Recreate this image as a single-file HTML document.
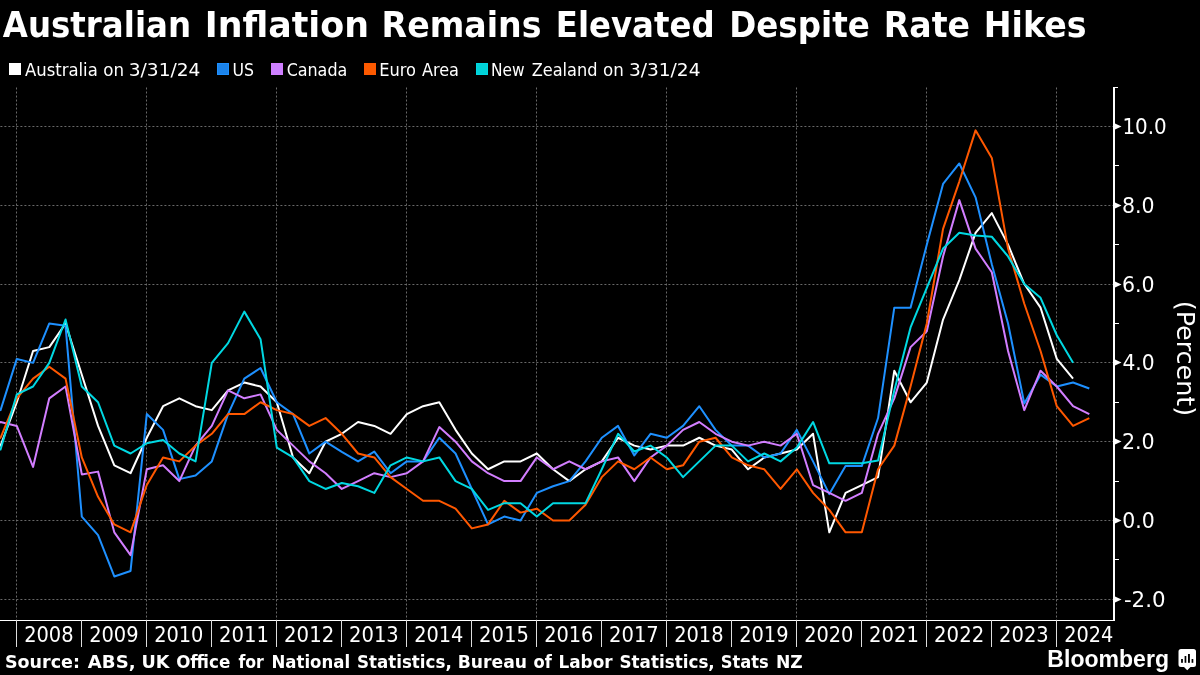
<!DOCTYPE html><html><head><meta charset="utf-8"><title>Australian Inflation Remains Elevated Despite Rate Hikes</title>
<style>html,body{margin:0;padding:0;background:#000;}svg{display:block}</style></head><body>
<svg width="1200" height="675" viewBox="0 0 1200 675">
<rect width="1200" height="675" fill="#000"/>
<text y="36.70" font-family="'DejaVu Sans','Liberation Sans',sans-serif" font-size="34.7" font-weight="bold" fill="#fff" ><tspan x="2.77" textLength="188.29" lengthAdjust="spacingAndGlyphs">Australian</tspan> <tspan x="204.77" textLength="164.19" lengthAdjust="spacingAndGlyphs">Inflation</tspan> <tspan x="381.61" textLength="159.82" lengthAdjust="spacingAndGlyphs">Remains</tspan> <tspan x="555.83" textLength="158.75" lengthAdjust="spacingAndGlyphs">Elevated</tspan> <tspan x="729.17" textLength="140.65" lengthAdjust="spacingAndGlyphs">Despite</tspan> <tspan x="883.81" textLength="86.25" lengthAdjust="spacingAndGlyphs">Rate</tspan> <tspan x="983.81" textLength="102.77" lengthAdjust="spacingAndGlyphs">Hikes</tspan></text>
<rect x="9.5" y="63.5" width="11" height="11" fill="#ffffff" stroke="#ffffff" stroke-width="1"/>
<text y="76.00" font-family="'DejaVu Sans Condensed','DejaVu Sans','Liberation Sans',sans-serif" font-size="18" font-weight="normal" fill="#fff" ><tspan x="24.97" textLength="72.80" lengthAdjust="spacingAndGlyphs">Australia</tspan> <tspan x="103.20" textLength="20.76" lengthAdjust="spacingAndGlyphs">on</tspan> <tspan x="128.77" textLength="71.59" lengthAdjust="spacingAndGlyphs">3/31/24</tspan></text>
<rect x="217.5" y="63.5" width="11" height="11" fill="#1b83ea" stroke="#1e90ff" stroke-width="1"/>
<text y="76.00" font-family="'DejaVu Sans Condensed','DejaVu Sans','Liberation Sans',sans-serif" font-size="18" font-weight="normal" fill="#fff" ><tspan x="232.46" textLength="21.50" lengthAdjust="spacingAndGlyphs">US</tspan></text>
<rect x="271.5" y="63.5" width="11" height="11" fill="#cd80ff" stroke="#d27eff" stroke-width="1"/>
<text y="76.00" font-family="'DejaVu Sans Condensed','DejaVu Sans','Liberation Sans',sans-serif" font-size="18" font-weight="normal" fill="#fff" ><tspan x="286.64" textLength="60.64" lengthAdjust="spacingAndGlyphs">Canada</tspan></text>
<rect x="364.5" y="63.5" width="11" height="11" fill="#fc5a00" stroke="#ff5800" stroke-width="1"/>
<text y="76.00" font-family="'DejaVu Sans Condensed','DejaVu Sans','Liberation Sans',sans-serif" font-size="18" font-weight="normal" fill="#fff" ><tspan x="379.17" textLength="36.74" lengthAdjust="spacingAndGlyphs">Euro</tspan> <tspan x="421.88" textLength="37.09" lengthAdjust="spacingAndGlyphs">Area</tspan></text>
<rect x="476.5" y="63.5" width="11" height="11" fill="#00d2d7" stroke="#00d8e2" stroke-width="1"/>
<text y="76.00" font-family="'DejaVu Sans Condensed','DejaVu Sans','Liberation Sans',sans-serif" font-size="18" font-weight="normal" fill="#fff" ><tspan x="491.05" textLength="33.61" lengthAdjust="spacingAndGlyphs">New</tspan> <tspan x="531.65" textLength="65.80" lengthAdjust="spacingAndGlyphs">Zealand</tspan> <tspan x="603.10" textLength="20.76" lengthAdjust="spacingAndGlyphs">on</tspan> <tspan x="628.97" textLength="71.49" lengthAdjust="spacingAndGlyphs">3/31/24</tspan></text>
<line x1="0.4" x2="1113" y1="126.5" y2="126.5" stroke="#686868" stroke-width="1" stroke-dasharray="2 2"/>
<line x1="0.4" x2="1113" y1="205.5" y2="205.5" stroke="#686868" stroke-width="1" stroke-dasharray="2 2"/>
<line x1="0.4" x2="1113" y1="284.5" y2="284.5" stroke="#686868" stroke-width="1" stroke-dasharray="2 2"/>
<line x1="0.4" x2="1113" y1="362.5" y2="362.5" stroke="#686868" stroke-width="1" stroke-dasharray="2 2"/>
<line x1="0.4" x2="1113" y1="441.5" y2="441.5" stroke="#686868" stroke-width="1" stroke-dasharray="2 2"/>
<line x1="0.4" x2="1113" y1="520.5" y2="520.5" stroke="#686868" stroke-width="1" stroke-dasharray="2 2"/>
<line x1="0.4" x2="1113" y1="599.5" y2="599.5" stroke="#686868" stroke-width="1" stroke-dasharray="2 2"/>
<line x1="16.5" x2="16.5" y1="87.5" y2="620" stroke="#686868" stroke-width="1" stroke-dasharray="2 2"/>
<line x1="146.5" x2="146.5" y1="87.5" y2="620" stroke="#686868" stroke-width="1" stroke-dasharray="2 2"/>
<line x1="276.5" x2="276.5" y1="87.5" y2="620" stroke="#686868" stroke-width="1" stroke-dasharray="2 2"/>
<line x1="406.5" x2="406.5" y1="87.5" y2="620" stroke="#686868" stroke-width="1" stroke-dasharray="2 2"/>
<line x1="536.5" x2="536.5" y1="87.5" y2="620" stroke="#686868" stroke-width="1" stroke-dasharray="2 2"/>
<line x1="666.5" x2="666.5" y1="87.5" y2="620" stroke="#686868" stroke-width="1" stroke-dasharray="2 2"/>
<line x1="796.5" x2="796.5" y1="87.5" y2="620" stroke="#686868" stroke-width="1" stroke-dasharray="2 2"/>
<line x1="926.5" x2="926.5" y1="87.5" y2="620" stroke="#686868" stroke-width="1" stroke-dasharray="2 2"/>
<line x1="1056.5" x2="1056.5" y1="87.5" y2="620" stroke="#686868" stroke-width="1" stroke-dasharray="2 2"/>
<polyline points="-15.70,437.74 0.55,445.62 16.80,402.27 33.05,351.04 49.30,347.10 65.55,323.45 81.80,374.68 98.05,425.92 114.30,465.33 130.55,473.21 146.80,437.74 163.05,406.21 179.30,398.33 195.55,406.21 211.80,410.15 228.05,390.45 244.30,382.56 260.55,386.51 276.80,402.27 293.05,457.44 309.30,473.21 325.55,441.68 341.80,433.80 358.05,421.98 374.30,425.92 390.55,433.80 406.80,414.09 423.05,406.21 439.30,402.27 455.55,429.86 471.80,453.50 488.05,469.27 504.30,461.38 520.55,461.38 536.80,453.50 553.05,469.27 569.30,481.09 585.55,469.27 601.80,461.38 618.05,437.74 634.30,445.62 650.55,449.56 666.80,445.62 683.05,445.62 699.30,437.74 715.55,445.62 731.80,449.56 748.05,469.27 764.30,457.44 780.55,453.50 796.80,449.56 813.05,433.80 829.30,532.32 845.55,492.91 861.80,485.03 878.05,477.15 894.30,370.74 910.55,402.27 926.80,382.56 943.05,319.51 959.30,280.10 975.55,232.81 991.80,213.10 1008.05,244.63 1024.30,284.04 1040.55,307.69 1056.80,358.92 1073.05,378.62" fill="none" stroke="#ffffff" stroke-width="2" stroke-linejoin="round" stroke-linecap="butt"/>
<polyline points="-15.70,414.09 0.55,410.15 16.80,358.92 33.05,362.86 49.30,323.45 65.55,325.81 81.80,516.56 98.05,535.08 114.30,576.46 130.55,570.94 146.80,414.09 163.05,429.86 179.30,479.12 195.55,475.57 211.80,461.38 228.05,414.09 244.30,378.62 260.55,367.98 276.80,402.27 293.05,414.09 309.30,453.50 325.55,441.68 341.80,451.93 358.05,461.38 374.30,451.53 390.55,473.21 406.80,461.38 423.05,461.38 439.30,437.74 455.55,453.50 471.80,488.97 488.05,524.44 504.30,516.56 520.55,520.50 536.80,492.91 553.05,486.21 569.30,481.09 585.55,461.38 601.80,437.74 618.05,425.92 634.30,455.47 650.55,433.80 666.80,437.74 683.05,425.92 699.30,406.21 715.55,429.86 731.80,445.62 748.05,445.62 764.30,457.44 780.55,453.50 796.80,429.86 813.05,461.38 829.30,494.10 845.55,466.11 861.80,466.11 878.05,418.03 894.30,307.69 910.55,307.69 926.80,244.63 943.05,183.94 959.30,163.45 975.55,197.34 991.80,264.34 1008.05,323.45 1024.30,403.45 1040.55,374.68 1056.80,386.51 1073.05,382.56 1089.30,388.48" fill="none" stroke="#1e90ff" stroke-width="2" stroke-linejoin="round" stroke-linecap="butt"/>
<polyline points="-15.70,433.80 0.55,421.98 16.80,425.92 33.05,466.90 49.30,398.33 65.55,386.51 81.80,474.39 98.05,471.63 114.30,532.32 130.55,555.18 146.80,469.27 163.05,465.33 179.30,481.09 195.55,445.62 211.80,425.92 228.05,390.45 244.30,398.33 260.55,394.39 276.80,429.86 293.05,445.62 309.30,461.38 325.55,473.21 341.80,488.97 358.05,481.09 374.30,473.21 390.55,477.15 406.80,473.21 423.05,461.38 439.30,427.10 455.55,441.68 471.80,461.38 488.05,473.21 504.30,481.09 520.55,481.09 536.80,457.44 553.05,469.27 569.30,461.38 585.55,469.27 601.80,461.38 618.05,457.44 634.30,481.09 650.55,457.44 666.80,445.62 683.05,429.86 699.30,421.98 715.55,433.80 731.80,441.68 748.05,445.62 764.30,441.68 780.55,445.62 796.80,433.80 813.05,485.03 829.30,492.91 845.55,500.80 861.80,492.91 878.05,433.80 894.30,398.33 910.55,347.10 926.80,331.33 943.05,256.45 959.30,200.10 975.55,248.57 991.80,272.22 1008.05,351.04 1024.30,410.15 1040.55,370.74 1056.80,386.51 1073.05,406.21 1089.30,414.09" fill="none" stroke="#d27eff" stroke-width="2" stroke-linejoin="round" stroke-linecap="butt"/>
<polyline points="-15.70,445.62 0.55,437.74 16.80,398.33 33.05,378.62 49.30,366.80 65.55,378.62 81.80,457.44 98.05,496.85 114.30,524.44 130.55,532.32 146.80,485.03 163.05,457.44 179.30,461.38 195.55,445.62 211.80,433.80 228.05,414.09 244.30,414.09 260.55,402.27 276.80,410.15 293.05,414.09 309.30,425.92 325.55,418.03 341.80,433.80 358.05,453.50 374.30,457.44 390.55,477.15 406.80,488.97 423.05,500.80 439.30,500.80 455.55,508.68 471.80,528.38 488.05,524.44 504.30,500.80 520.55,512.62 536.80,508.68 553.05,520.50 569.30,520.50 585.55,504.74 601.80,477.15 618.05,461.38 634.30,469.27 650.55,457.44 666.80,469.27 683.05,465.33 699.30,441.68 715.55,437.74 731.80,457.44 748.05,465.33 764.30,469.27 780.55,488.97 796.80,469.27 813.05,492.91 829.30,509.86 845.55,532.32 861.80,532.32 878.05,469.27 894.30,445.62 910.55,386.51 926.80,323.45 943.05,228.87 959.30,181.57 975.55,130.34 991.80,157.93 1008.05,248.57 1024.30,303.75 1040.55,351.04 1056.80,406.21 1073.05,425.92 1089.30,418.03" fill="none" stroke="#ff5800" stroke-width="2" stroke-linejoin="round" stroke-linecap="butt"/>
<polyline points="-15.70,441.68 0.55,449.56 16.80,394.39 33.05,386.51 49.30,362.86 65.55,319.51 81.80,386.51 98.05,402.27 114.30,445.62 130.55,453.50 146.80,443.26 163.05,440.10 179.30,453.50 195.55,461.38 211.80,362.86 228.05,343.16 244.30,311.63 260.55,339.21 276.80,447.59 293.05,457.44 309.30,481.09 325.55,488.97 341.80,483.06 358.05,486.21 374.30,492.91 390.55,465.33 406.80,457.44 423.05,461.38 439.30,457.44 455.55,481.09 471.80,488.97 488.05,509.86 504.30,503.16 520.55,503.16 536.80,516.56 553.05,503.16 569.30,503.16 585.55,503.16 601.80,469.27 618.05,433.80 634.30,451.53 650.55,445.62 666.80,457.44 683.05,477.15 699.30,461.38 715.55,445.62 731.80,445.62 748.05,461.38 764.30,453.50 780.55,461.38 796.80,447.59 813.05,421.98 829.30,463.36 845.55,463.36 861.80,463.36 878.05,460.60 894.30,390.45 910.55,327.39 926.80,287.98 943.05,248.57 959.30,232.81 975.55,235.57 991.80,236.75 1008.05,256.45 1024.30,284.04 1040.55,297.83 1056.80,335.27 1073.05,362.86" fill="none" stroke="#00d8e2" stroke-width="2" stroke-linejoin="round" stroke-linecap="butt"/>
<line x1="0" x2="1115" y1="620.5" y2="620.5" stroke="#fff" stroke-width="1"/>
<line x1="1114" x2="1114" y1="87" y2="621" stroke="#fff" stroke-width="2"/>
<line x1="1113" x2="1118" y1="87.5" y2="87.5" stroke="#fff" stroke-width="1"/>
<polygon points="1115,123.5 1121.5,126.5 1115,129.5" fill="#fff"/>
<text y="134.20" font-family="'DejaVu Sans Condensed','DejaVu Sans','Liberation Sans',sans-serif" font-size="22" font-weight="normal" fill="#fff" ><tspan x="1122.47" textLength="44.24" lengthAdjust="spacingAndGlyphs">10.0</tspan></text>
<polygon points="1115,202.5 1121.5,205.5 1115,208.5" fill="#fff"/>
<text y="213.20" font-family="'DejaVu Sans Condensed','DejaVu Sans','Liberation Sans',sans-serif" font-size="22" font-weight="normal" fill="#fff" ><tspan x="1122.07" textLength="32.61" lengthAdjust="spacingAndGlyphs">8.0</tspan></text>
<polygon points="1115,281.5 1121.5,284.5 1115,287.5" fill="#fff"/>
<text y="292.20" font-family="'DejaVu Sans Condensed','DejaVu Sans','Liberation Sans',sans-serif" font-size="22" font-weight="normal" fill="#fff" ><tspan x="1122.07" textLength="32.61" lengthAdjust="spacingAndGlyphs">6.0</tspan></text>
<polygon points="1115,359.5 1121.5,362.5 1115,365.5" fill="#fff"/>
<text y="370.20" font-family="'DejaVu Sans Condensed','DejaVu Sans','Liberation Sans',sans-serif" font-size="22" font-weight="normal" fill="#fff" ><tspan x="1122.48" textLength="32.19" lengthAdjust="spacingAndGlyphs">4.0</tspan></text>
<polygon points="1115,438.5 1121.5,441.5 1115,444.5" fill="#fff"/>
<text y="449.20" font-family="'DejaVu Sans Condensed','DejaVu Sans','Liberation Sans',sans-serif" font-size="22" font-weight="normal" fill="#fff" ><tspan x="1121.94" textLength="32.76" lengthAdjust="spacingAndGlyphs">2.0</tspan></text>
<polygon points="1115,517.5 1121.5,520.5 1115,523.5" fill="#fff"/>
<text y="528.20" font-family="'DejaVu Sans Condensed','DejaVu Sans','Liberation Sans',sans-serif" font-size="22" font-weight="normal" fill="#fff" ><tspan x="1122.21" textLength="32.47" lengthAdjust="spacingAndGlyphs">0.0</tspan></text>
<polygon points="1115,596.5 1121.5,599.5 1115,602.5" fill="#fff"/>
<text y="607.20" font-family="'DejaVu Sans Condensed','DejaVu Sans','Liberation Sans',sans-serif" font-size="22" font-weight="normal" fill="#fff" ><tspan x="1123.92" textLength="41.61" lengthAdjust="spacingAndGlyphs">-2.0</tspan></text>
<line x1="1115" x2="1119" y1="165.5" y2="165.5" stroke="#fff" stroke-width="1"/>
<line x1="1115" x2="1119" y1="244.5" y2="244.5" stroke="#fff" stroke-width="1"/>
<line x1="1115" x2="1119" y1="323.5" y2="323.5" stroke="#fff" stroke-width="1"/>
<line x1="1115" x2="1119" y1="402.5" y2="402.5" stroke="#fff" stroke-width="1"/>
<line x1="1115" x2="1119" y1="481.5" y2="481.5" stroke="#fff" stroke-width="1"/>
<line x1="1115" x2="1119" y1="559.5" y2="559.5" stroke="#fff" stroke-width="1"/>
<line x1="16.5" x2="16.5" y1="620" y2="647" stroke="#ddd" stroke-width="1"/>
<text y="642.00" font-family="'DejaVu Sans Condensed','DejaVu Sans','Liberation Sans',sans-serif" font-size="22" font-weight="normal" fill="#fff" ><tspan x="24.13" textLength="49.41" lengthAdjust="spacingAndGlyphs">2008</tspan></text>
<line x1="81.5" x2="81.5" y1="620" y2="647" stroke="#ddd" stroke-width="1"/>
<text y="642.00" font-family="'DejaVu Sans Condensed','DejaVu Sans','Liberation Sans',sans-serif" font-size="22" font-weight="normal" fill="#fff" ><tspan x="89.13" textLength="49.41" lengthAdjust="spacingAndGlyphs">2009</tspan></text>
<line x1="146.5" x2="146.5" y1="620" y2="647" stroke="#ddd" stroke-width="1"/>
<text y="642.00" font-family="'DejaVu Sans Condensed','DejaVu Sans','Liberation Sans',sans-serif" font-size="22" font-weight="normal" fill="#fff" ><tspan x="154.13" textLength="49.28" lengthAdjust="spacingAndGlyphs">2010</tspan></text>
<line x1="211.5" x2="211.5" y1="620" y2="647" stroke="#ddd" stroke-width="1"/>
<text y="642.00" font-family="'DejaVu Sans Condensed','DejaVu Sans','Liberation Sans',sans-serif" font-size="22" font-weight="normal" fill="#fff" ><tspan x="219.12" textLength="49.80" lengthAdjust="spacingAndGlyphs">2011</tspan></text>
<line x1="276.5" x2="276.5" y1="620" y2="647" stroke="#ddd" stroke-width="1"/>
<text y="642.00" font-family="'DejaVu Sans Condensed','DejaVu Sans','Liberation Sans',sans-serif" font-size="22" font-weight="normal" fill="#fff" ><tspan x="284.11" textLength="50.06" lengthAdjust="spacingAndGlyphs">2012</tspan></text>
<line x1="341.5" x2="341.5" y1="620" y2="647" stroke="#ddd" stroke-width="1"/>
<text y="642.00" font-family="'DejaVu Sans Condensed','DejaVu Sans','Liberation Sans',sans-serif" font-size="22" font-weight="normal" fill="#fff" ><tspan x="349.12" textLength="49.67" lengthAdjust="spacingAndGlyphs">2013</tspan></text>
<line x1="406.5" x2="406.5" y1="620" y2="647" stroke="#ddd" stroke-width="1"/>
<text y="642.00" font-family="'DejaVu Sans Condensed','DejaVu Sans','Liberation Sans',sans-serif" font-size="22" font-weight="normal" fill="#fff" ><tspan x="414.14" textLength="49.15" lengthAdjust="spacingAndGlyphs">2014</tspan></text>
<line x1="471.5" x2="471.5" y1="620" y2="647" stroke="#ddd" stroke-width="1"/>
<text y="642.00" font-family="'DejaVu Sans Condensed','DejaVu Sans','Liberation Sans',sans-serif" font-size="22" font-weight="normal" fill="#fff" ><tspan x="479.12" textLength="49.80" lengthAdjust="spacingAndGlyphs">2015</tspan></text>
<line x1="536.5" x2="536.5" y1="620" y2="647" stroke="#ddd" stroke-width="1"/>
<text y="642.00" font-family="'DejaVu Sans Condensed','DejaVu Sans','Liberation Sans',sans-serif" font-size="22" font-weight="normal" fill="#fff" ><tspan x="544.13" textLength="49.28" lengthAdjust="spacingAndGlyphs">2016</tspan></text>
<line x1="601.5" x2="601.5" y1="620" y2="647" stroke="#ddd" stroke-width="1"/>
<text y="642.00" font-family="'DejaVu Sans Condensed','DejaVu Sans','Liberation Sans',sans-serif" font-size="22" font-weight="normal" fill="#fff" ><tspan x="609.12" textLength="49.67" lengthAdjust="spacingAndGlyphs">2017</tspan></text>
<line x1="666.5" x2="666.5" y1="620" y2="647" stroke="#ddd" stroke-width="1"/>
<text y="642.00" font-family="'DejaVu Sans Condensed','DejaVu Sans','Liberation Sans',sans-serif" font-size="22" font-weight="normal" fill="#fff" ><tspan x="674.13" textLength="49.41" lengthAdjust="spacingAndGlyphs">2018</tspan></text>
<line x1="731.5" x2="731.5" y1="620" y2="647" stroke="#ddd" stroke-width="1"/>
<text y="642.00" font-family="'DejaVu Sans Condensed','DejaVu Sans','Liberation Sans',sans-serif" font-size="22" font-weight="normal" fill="#fff" ><tspan x="739.13" textLength="49.41" lengthAdjust="spacingAndGlyphs">2019</tspan></text>
<line x1="796.5" x2="796.5" y1="620" y2="647" stroke="#ddd" stroke-width="1"/>
<text y="642.00" font-family="'DejaVu Sans Condensed','DejaVu Sans','Liberation Sans',sans-serif" font-size="22" font-weight="normal" fill="#fff" ><tspan x="804.13" textLength="49.28" lengthAdjust="spacingAndGlyphs">2020</tspan></text>
<line x1="861.5" x2="861.5" y1="620" y2="647" stroke="#ddd" stroke-width="1"/>
<text y="642.00" font-family="'DejaVu Sans Condensed','DejaVu Sans','Liberation Sans',sans-serif" font-size="22" font-weight="normal" fill="#fff" ><tspan x="869.12" textLength="49.80" lengthAdjust="spacingAndGlyphs">2021</tspan></text>
<line x1="926.5" x2="926.5" y1="620" y2="647" stroke="#ddd" stroke-width="1"/>
<text y="642.00" font-family="'DejaVu Sans Condensed','DejaVu Sans','Liberation Sans',sans-serif" font-size="22" font-weight="normal" fill="#fff" ><tspan x="934.11" textLength="50.06" lengthAdjust="spacingAndGlyphs">2022</tspan></text>
<line x1="991.5" x2="991.5" y1="620" y2="647" stroke="#ddd" stroke-width="1"/>
<text y="642.00" font-family="'DejaVu Sans Condensed','DejaVu Sans','Liberation Sans',sans-serif" font-size="22" font-weight="normal" fill="#fff" ><tspan x="999.12" textLength="49.67" lengthAdjust="spacingAndGlyphs">2023</tspan></text>
<line x1="1056.5" x2="1056.5" y1="620" y2="647" stroke="#ddd" stroke-width="1"/>
<text y="642.00" font-family="'DejaVu Sans Condensed','DejaVu Sans','Liberation Sans',sans-serif" font-size="22" font-weight="normal" fill="#fff" ><tspan x="1064.14" textLength="49.15" lengthAdjust="spacingAndGlyphs">2024</tspan></text>
<text transform="translate(1176.6,302.8) rotate(90)" x="-2.12" y="0" font-family="'DejaVu Sans Condensed','DejaVu Sans','Liberation Sans',sans-serif" font-size="25" fill="#fff" textLength="115.49" lengthAdjust="spacingAndGlyphs">(Percent)</text>
<text y="668.00" font-family="'DejaVu Sans','Liberation Sans',sans-serif" font-size="17" font-weight="bold" fill="#fff" ><tspan x="4.96" textLength="75.04" lengthAdjust="spacingAndGlyphs">Source:</tspan> <tspan x="87.87" textLength="47.68" lengthAdjust="spacingAndGlyphs">ABS,</tspan> <tspan x="141.44" textLength="28.02" lengthAdjust="spacingAndGlyphs">UK</tspan> <tspan x="176.14" textLength="54.12" lengthAdjust="spacingAndGlyphs">Office</tspan> <tspan x="238.40" textLength="25.42" lengthAdjust="spacingAndGlyphs">for</tspan> <tspan x="271.54" textLength="78.53" lengthAdjust="spacingAndGlyphs">National</tspan> <tspan x="357.02" textLength="94.71" lengthAdjust="spacingAndGlyphs">Statistics,</tspan> <tspan x="457.74" textLength="69.20" lengthAdjust="spacingAndGlyphs">Bureau</tspan> <tspan x="533.53" textLength="18.30" lengthAdjust="spacingAndGlyphs">of</tspan> <tspan x="558.51" textLength="54.02" lengthAdjust="spacingAndGlyphs">Labor</tspan> <tspan x="619.52" textLength="95.23" lengthAdjust="spacingAndGlyphs">Statistics,</tspan> <tspan x="720.80" textLength="48.00" lengthAdjust="spacingAndGlyphs">Stats</tspan> <tspan x="775.98" textLength="26.83" lengthAdjust="spacingAndGlyphs">NZ</tspan></text>
<text y="667.40" font-family="'Liberation Sans','DejaVu Sans',sans-serif" font-size="24.5" font-weight="bold" fill="#fff" ><tspan x="1047.37" textLength="121.61" lengthAdjust="spacingAndGlyphs">Bloomberg</tspan></text>
<path d="M1181,649h12.5a2.5,2.5 0 0 1 2.5,2.5v13a2.5,2.5 0 0 1 -2.5,2.5h-3l-3.25,3.3l-3.25,-3.3h-3a2.5,2.5 0 0 1 -2.5,-2.5v-13a2.5,2.5 0 0 1 2.5,-2.5z" fill="#fff"/>
<rect x="1181.1" y="659.0" width="1.8" height="3.8" fill="#000"/>
<rect x="1184.6" y="656.0" width="1.7" height="6.8" fill="#000"/>
<rect x="1188.0" y="654.0" width="1.9" height="8.8" fill="#000"/>
<rect x="1191.6" y="659.0" width="1.7" height="3.8" fill="#000"/>
</svg></body></html>
